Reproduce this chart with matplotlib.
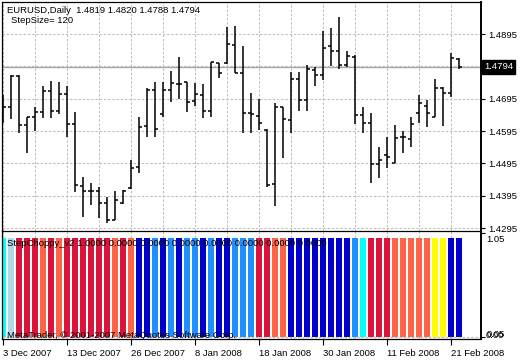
import matplotlib.pyplot as plt
from matplotlib.collections import LineCollection
from matplotlib import transforms

# EURUSD daily, 3 Dec 2007 - 22 Feb 2008
opens = [1.4666, 1.4669, 1.4765, 1.4614, 1.4638, 1.4654, 1.4719, 1.4657, 1.4709, 1.4617,
         1.4425, 1.4410, 1.4410, 1.4372, 1.4320, 1.4372, 1.4419, 1.4484, 1.4611, 1.4722,
         1.4648, 1.4722, 1.4740, 1.4747, 1.4688, 1.4706, 1.4657, 1.4805, 1.4805, 1.4861,
         1.4774, 1.4651, 1.4641, 1.4598, 1.4431, 1.4669, 1.4629, 1.4756, 1.4691, 1.4784,
         1.4768, 1.4858, 1.4842, 1.4799, 1.4824, 1.4645, 1.4620, 1.4493, 1.4521, 1.4496,
         1.4576, 1.4570, 1.4651, 1.4672, 1.4638, 1.4728, 1.4713, 1.4819]
highs = [1.4706, 1.4768, 1.4768, 1.4638, 1.4669, 1.4734, 1.4750, 1.4747, 1.4734, 1.4654,
         1.4453, 1.4434, 1.4422, 1.4391, 1.4410, 1.4413, 1.4505, 1.4638, 1.4728, 1.4747,
         1.4747, 1.4781, 1.4824, 1.4747, 1.4743, 1.4740, 1.4808, 1.4805, 1.4917, 1.4920,
         1.4858, 1.4713, 1.4694, 1.4601, 1.4682, 1.4669, 1.4777, 1.4777, 1.4799, 1.4793,
         1.4904, 1.4914, 1.4948, 1.4842, 1.4830, 1.4669, 1.4651, 1.4546, 1.4576, 1.4614,
         1.4595, 1.4638, 1.4706, 1.4691, 1.4756, 1.4731, 1.4836, 1.4820]
lows = [1.4620, 1.4632, 1.4589, 1.4527, 1.4595, 1.4635, 1.4635, 1.4648, 1.4576, 1.4406,
        1.4329, 1.4366, 1.4326, 1.4311, 1.4320, 1.4369, 1.4416, 1.4465, 1.4576, 1.4576,
        1.4638, 1.4685, 1.4694, 1.4654, 1.4672, 1.4635, 1.4638, 1.4759, 1.4802, 1.4774,
        1.4589, 1.4589, 1.4598, 1.4422, 1.4363, 1.4511, 1.4589, 1.4657, 1.4657, 1.4734,
        1.4753, 1.4796, 1.4787, 1.4793, 1.4617, 1.4589, 1.4434, 1.4450, 1.4481, 1.4496,
        1.4527, 1.4546, 1.4620, 1.4607, 1.4638, 1.4611, 1.4700, 1.4788]
closes = [1.4669, 1.4765, 1.4614, 1.4638, 1.4654, 1.4719, 1.4657, 1.4709, 1.4617, 1.4428,
          1.4410, 1.4410, 1.4372, 1.4320, 1.4382, 1.4410, 1.4481, 1.4607, 1.4722, 1.4601,
          1.4722, 1.4743, 1.4740, 1.4685, 1.4709, 1.4657, 1.4808, 1.4774, 1.4864, 1.4774,
          1.4651, 1.4648, 1.4620, 1.4428, 1.4669, 1.4632, 1.4756, 1.4691, 1.4787, 1.4768,
          1.4852, 1.4842, 1.4799, 1.4827, 1.4645, 1.4620, 1.4493, 1.4505, 1.4515, 1.4573,
          1.4576, 1.4617, 1.4682, 1.4651, 1.4728, 1.4713, 1.4821, 1.4794]

# StepChoppy_v2 histogram: value and colour buffer per bar
choppy = [1.0, 1.0, 1.0, 1.0, 1.0, 1.0, 1.0, 1.0, 1.0, 1.0, 1.0, 1.0, 1.0, 1.0, 1.0, 1.0,
          1.0, 1.0, 1.0, 1.0, 1.0, 1.0, 1.0, 1.0, 1.0, 1.0, 1.0, 1.0, 1.0, 1.0, 1.0, 1.0,
          1.0, 1.0, 1.0, 1.0, 1.0, 1.0, 1.0, 1.0, 1.0, 1.0, 1.0, 1.0, 1.0, 1.0, 1.0, 1.0,
          1.0, 1.0, 1.0, 1.0, 1.0, 1.0, 1.0, 1.0, 1.0, 1.0]
choppy_col = ["aqua", "lightblue", "crimson", "crimson", "crimson", "tomato", "crimson",
              "tomato", "crimson", "crimson", "crimson", "crimson", "crimson", "crimson",
              "tomato", "crimson", "tomato",
              "mediumblue", "mediumblue", "dodgerblue", "mediumblue", "dodgerblue",
              "mediumblue", "dodgerblue", "dodgerblue", "mediumblue", "dodgerblue",
              "mediumblue", "mediumblue", "dodgerblue",
              "dodgerblue", "dodgerblue", "crimson", "crimson", "tomato", "tomato",
              "mediumblue", "mediumblue", "mediumblue", "mediumblue", "mediumblue",
              "mediumblue", "mediumblue", "mediumblue",
              "dodgerblue", "aqua", "crimson", "crimson", "crimson",
              "tomato", "tomato", "tomato", "tomato", "tomato",
              "yellow", "yellow", "mediumblue", "mediumblue"]

date_pos = [0, 8, 16, 24, 32, 40, 48, 56]
date_labels = ["3 Dec 2007", "13 Dec 2007", "26 Dec 2007", "8 Jan 2008",
               "18 Jan 2008", "30 Jan 2008", "11 Feb 2008", "21 Feb 2008"]
price_levels = [1.4295, 1.4395, 1.4495, 1.4595, 1.4695, 1.4795, 1.4895]
last_price = 1.4794

plt.rcParams['font.family'] = ['Liberation Sans', 'DejaVu Sans']
plt.rcParams['font.size'] = 6.8

W, H = 520, 360
fig = plt.figure(figsize=(W / 100, H / 100), dpi=100)


def box(x0, y0, x1, y1):
    return [x0 / W, 1 - y1 / H, (x1 - x0) / W, (y1 - y0) / H]


def ftext(x, y, s, **kw):
    fig.text(x / W, 1 - y / H, s, va='center', ha='left', **kw)


grid_kw = dict(color='#c0c0c0', lw=0.8, dashes=(2.2, 1.6))
n = len(closes)
xl = (-0.125, 59.75)

# main price window
ax = fig.add_axes(box(2, 2, 481, 231))
ax.set_xlim(*xl)
ax.set_ylim(1.4286, 1.4994)
ax.set_xticks(range(0, n, 4))
ax.tick_params(axis='x', length=0, labelbottom=False)
ax.yaxis.tick_right()
ax.set_yticks(price_levels)
ax.set_yticklabels([f"{p:.4f}" if abs(p - 1.4795) > 1e-6 else "" for p in price_levels])
ax.tick_params(axis='y', direction='out', length=3, width=0.8, pad=2)
ax.grid(True, **grid_kw)
ax.set_axisbelow(True)
for s in ax.spines.values():
    s.set_linewidth(0.9)
ax.spines['right'].set_linewidth(1.4)
ax.spines['bottom'].set_visible(False)

segs = []
for i in range(n):
    segs.append([(i, lows[i]), (i, highs[i])])
    segs.append([(i - 0.33, opens[i]), (i, opens[i])])
    segs.append([(i, closes[i]), (i + 0.33, closes[i])])
ax.add_collection(LineCollection(segs, colors='black', linewidths=1.1, zorder=3))

ax.axhline(last_price, color='#a8a8a8', lw=1.0, zorder=2)
tr = transforms.blended_transform_factory(ax.transAxes, ax.transData)
ax.text(1.006, last_price, f"{last_price:.4f}", transform=tr, color='white',
        va='center', ha='left', clip_on=False,
        bbox=dict(boxstyle='square,pad=0.25', fc='black', ec='black'))

# indicator window
ax2 = fig.add_axes(box(2, 231, 481, 339))
ax2.set_xlim(*xl)
ax2.set_ylim(-0.0202, 1.070)
ax2.bar(range(n), choppy, width=0.66, color=choppy_col, zorder=2)
ax2.set_xticks(date_pos)
ax2.set_xticklabels(date_labels)
for lbl in ax2.get_xticklabels():
    lbl.set_ha('left')
ax2.set_xticks(range(0, n, 4), minor=True)
ax2.tick_params(axis='x', which='major', direction='out', length=4, width=0.8, pad=3)
ax2.tick_params(axis='x', which='minor', length=0)
ax2.grid(True, axis='x', which='both', **grid_kw)
ax2.axhline(0, **grid_kw)
ax2.set_axisbelow(True)
ax2.yaxis.tick_right()
ax2.set_yticks([0, 1.05])
ax2.set_yticklabels([])
ax2.tick_params(axis='y', direction='out', length=3, width=0.8)
for s in ax2.spines.values():
    s.set_linewidth(0.9)
ax2.spines['right'].set_linewidth(1.4)

# texts
ftext(7, 10.5, "EURUSD,Daily  1.4819 1.4820 1.4788 1.4794")
ftext(11, 20.5, "StepSize= 120")
ftext(7, 243, "StepChoppy_v2 1.0000 0.0000 0.0000 0.0000 0.0000 0.0000 0.0000 0.0000")
ftext(7, 335, "MetaTrader, \u00a9 2001-2007 MetaQuotes Software Corp.")
ftext(486, 239, "1.05")
ftext(486, 335.5, "0.00")
ftext(486.5, 334.5, "0.05")

fig.savefig("out.png", dpi=100)
